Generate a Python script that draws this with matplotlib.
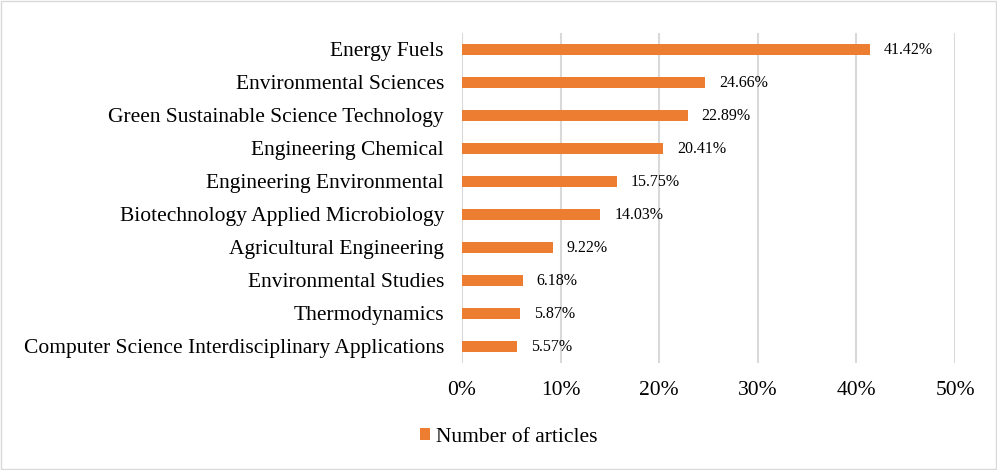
import matplotlib.pyplot as plt
from matplotlib.patches import Rectangle

categories = [
    "Energy Fuels",
    "Environmental Sciences",
    "Green Sustainable Science Technology",
    "Engineering Chemical",
    "Engineering Environmental",
    "Biotechnology Applied Microbiology",
    "Agricultural Engineering",
    "Environmental Studies",
    "Thermodynamics",
    "Computer Science Interdisciplinary Applications",
]
shares = [41.42, 24.66, 22.89, 20.41, 15.75, 14.03, 9.22, 6.18, 5.87, 5.57]
xticks = [0, 10, 20, 30, 40, 50]

plt.rcParams["font.family"] = ["Liberation Serif", "DejaVu Serif"]

fig = plt.figure(figsize=(9.97, 4.70), dpi=100)
ax = fig.add_axes([0.4634, 0.228, 0.4945, 0.702])

pos = list(range(len(categories)))
bars = ax.barh(pos, shares, height=0.33, color="#ED7D31", label="Number of articles", zorder=3)
for p, v in zip(pos, shares):
    ax.text(v + 1.4, p + 0.03, f"{v:.2f}%", va="center", ha="left", fontsize=11.5, color="#000000")

ax.set_ylim(len(categories) - 0.5, -0.5)
ax.set_xlim(0, 50)
ax.set_yticks(pos)
ax.set_yticklabels(categories, fontsize=15.5)
ax.set_xticks(xticks)
ax.set_xticklabels([f"{t}%" for t in xticks], fontsize=15.5)
ax.tick_params(axis="y", length=0, pad=13)
ax.tick_params(axis="x", length=0, pad=13)
ax.grid(axis="x", color="#D9D9D9", linewidth=1.5, zorder=0)
for s in ax.spines.values():
    s.set_visible(False)

fig.legend(handles=[bars], labels=["Number of articles"], loc="center",
           bbox_to_anchor=(0.51, 0.07), frameon=False, fontsize=15.5,
           handlelength=0.5, handleheight=0.5, handletextpad=0.25)

fig.patches.append(Rectangle((0.001, 0.002), 0.998, 0.996, transform=fig.transFigure,
                             fill=False, edgecolor="#D9D9D9", linewidth=1))

fig.savefig("out.png", dpi=100)
